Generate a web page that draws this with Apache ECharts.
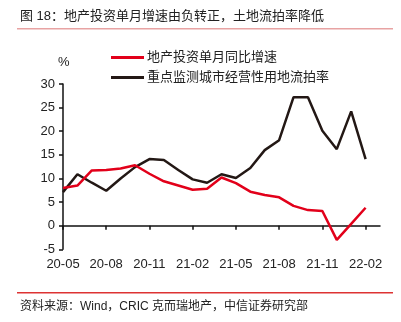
<!DOCTYPE html>
<html><head><meta charset="utf-8">
<script src="https://cdn.jsdelivr.net/npm/echarts@6/dist/echarts.min.js"></script>
<style>html,body{margin:0;padding:0;background:#fff}#c{width:401px;height:322px}</style>
</head><body><div id="c"></div>
<script>
const categories = ['20-05','20-06','20-07','20-08','20-09','20-10','20-11','20-12','21-01','21-02','21-03','21-04','21-05','21-06','21-07','21-08','21-09','21-10','21-11','21-12','22-01','22-02','22-03'];
const investGrowth = [8.0,8.5,11.7,11.8,12.1,12.8,11.0,9.4,8.5,7.6,7.8,10.2,9.0,7.2,6.5,6.0,4.2,3.3,3.1,-3.0,0.4,3.8,null];
const failRate = [7.1,10.9,9.1,7.4,10.0,12.4,14.1,13.9,11.8,9.8,9.1,10.9,10.1,12.2,16.0,18.1,27.2,27.2,20.1,16.2,24.2,14.1,null];
const seriesNames = ['地产投资单月同比增速','重点监测城市经营性用地流拍率'];
const yTicks = {min:-5, max:30, interval:5};
const titleText = '图 18：地产投资单月增速由负转正，土地流拍率降低';
const sourceText = '资料来源：Wind，CRIC 克而瑞地产，中信证券研究部';

const font = '"Liberation Sans","Noto Sans CJK SC",sans-serif';
const chart = echarts.init(document.getElementById('c'));
chart.setOption({
  animation:false,
  textStyle:{fontFamily:font},
  grid:{left:63,right:21,top:84,bottom:72.7},
  legend:{orient:'vertical',left:106,top:46,itemGap:7,itemWidth:33,itemHeight:3,icon:'rect',
    textStyle:{fontSize:13,color:'#222',fontFamily:font,padding:[0,0,0,-2]},
    data:seriesNames},
  graphic:[
    {type:'text',left:20,top:10,style:{text:titleText,fontSize:13,fill:'#222',fontFamily:font}},
    {type:'rect',shape:{x:17,y:28,width:376,height:1.5},style:{fill:'#e8a3a3'}},
    {type:'rect',shape:{x:17,y:292,width:376,height:1.5},style:{fill:'#d33'}},
    {type:'text',left:20,top:301,style:{text:sourceText,fontSize:12,fill:'#222',fontFamily:font}},
    {type:'text',left:58,top:56,style:{text:'%',fontSize:13,fill:'#222',fontFamily:font}}
  ],
  xAxis:[
    {type:'category',data:categories,boundaryGap:false,
     axisLine:{onZero:true,lineStyle:{color:'#111',width:1.5}},
     axisTick:{show:true,interval:2,length:4,lineStyle:{color:'#111',width:1.5}},
     axisLabel:{show:false}},
    {type:'category',data:categories,boundaryGap:false,position:'bottom',
     axisLine:{show:false},axisTick:{show:false},
     axisLabel:{interval:2,margin:9,fontSize:13,color:'#222',fontFamily:font}}
  ],
  yAxis:{type:'value',min:yTicks.min,max:yTicks.max,interval:yTicks.interval,
    axisLine:{show:true,lineStyle:{color:'#111',width:1.5}},
    axisTick:{show:true,length:4,lineStyle:{color:'#111',width:1.5}},
    splitLine:{show:false},
    axisLabel:{fontSize:13,color:'#222',margin:8,fontFamily:font}},
  series:[
    {name:seriesNames[0],type:'line',data:investGrowth,symbol:'none',color:'#e2001a',
     lineStyle:{width:2.5,color:'#e2001a'},z:3},
    {name:seriesNames[1],type:'line',data:failRate,symbol:'none',color:'#231815',
     lineStyle:{width:2.5,color:'#231815'},z:2}
  ]
});
</script></body></html>
